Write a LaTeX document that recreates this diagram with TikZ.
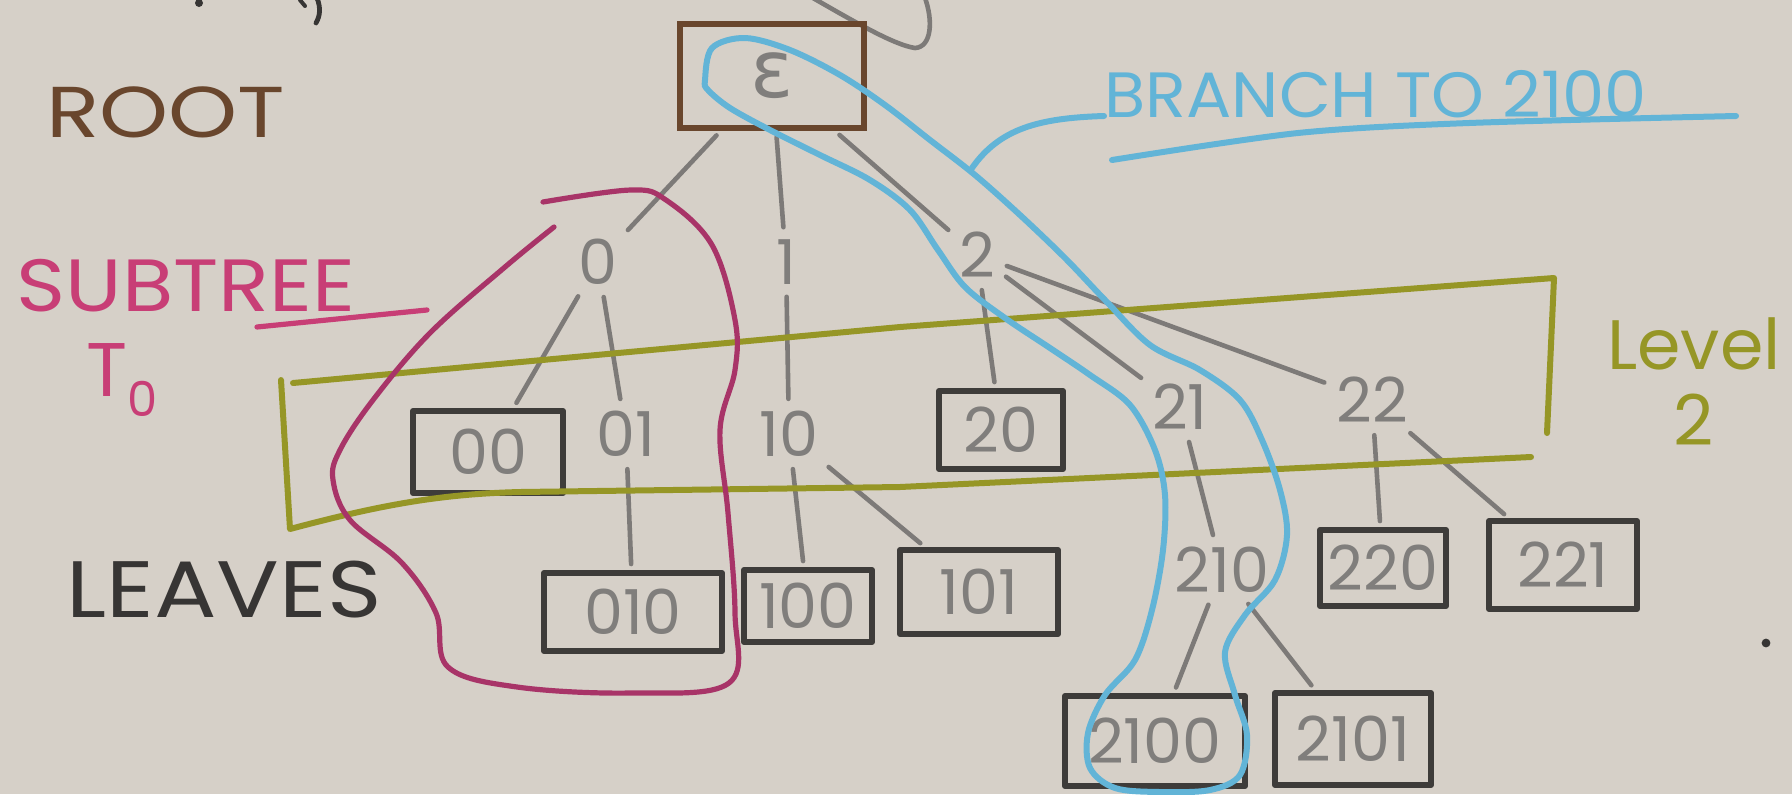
\documentclass[tikz,border=0pt]{standalone}
\usepackage{fontspec}
\setmainfont{Poppins}
\newfontfamily\grkfont{DejaVu Sans}
\definecolor{paper}{RGB}{214,208,200}
\definecolor{nodegray}{RGB}{128,126,124}
\definecolor{edgegray}{RGB}{125,122,120}
\definecolor{boxdark}{RGB}{62,60,58}
\definecolor{rootbrown}{RGB}{105,70,45}
\definecolor{pinkline}{RGB}{168,52,104}
\definecolor{pinktext}{RGB}{200,62,118}
\definecolor{olive}{RGB}{150,150,38}
\definecolor{branchblue}{RGB}{98,180,215}
\definecolor{inkdark}{RGB}{55,53,52}
\newcommand\nodefnt{\fontsize{31}{31}\selectfont}
\begin{document}
\begin{tikzpicture}[x=0.5pt,y=-0.5pt,
  tnode/.style={text=nodegray, font=\nodefnt, inner sep=3pt},
  leafbox/.style={draw=boxdark, line width=3pt, text=nodegray, font=\nodefnt, inner sep=0pt, line join=round},
  rootbox/.style={draw=rootbrown, line width=3pt, text=nodegray, inner sep=0pt, minimum width=92pt, minimum height=52pt},
  edge/.style={draw=edgegray, line width=2.3pt, line cap=round, shorten <=3pt, shorten >=3pt},
  oliveline/.style={draw=olive, line width=3pt, line cap=round, line join=round},
  pinkloop/.style={draw=pinkline, line width=2.6pt, line cap=round},
  blueloop/.style={draw=branchblue, line width=3pt, line cap=round},
  label/.style={inner sep=0pt}
]
\useasboundingbox (0,0) rectangle (1792,794);
\fill[paper] (0,0) rectangle (1792,794);

% cut-off strokes at the top edge
\fill[inkdark] (199,3) circle (2pt);
\draw[inkdark, line width=2pt, line cap=round] (300,0) -- (305,6);
\draw[inkdark, line width=2.4pt, line cap=round] (317,-2) .. controls (321,8) and (320,16) .. (316,23);
\draw[edgegray, line width=2.3pt, line cap=round] (813,-2) .. controls (860,25) and (895,45) .. (915,48) .. controls (932,47) and (933,20) .. (925,-2);

% nodes
\node[rootbox] (eps) at (772,76) {\grkfont\fontsize{40}{40}\selectfont ε};
\node[tnode] (n0) at (598,262) {0};
\node[tnode] (n1) at (786,262) {1};
\node[tnode] (n2) at (977,255) {2};
\node[leafbox, minimum width=75pt, minimum height=41pt] (n00) at (488,452) {00};
\node[tnode] (n01) at (626,434) {01};
\node[tnode] (n10) at (789,434) {10};
\node[leafbox, minimum width=62pt, minimum height=39pt] (n20) at (1001,430) {20};
\node[tnode] (n21) at (1180,407) {21};
\node[tnode] (n22) at (1372,400) {22};
\node[leafbox, minimum width=89pt, minimum height=39pt] (n010) at (633,612) {010};
\node[leafbox, minimum width=64pt, minimum height=36pt] (n100) at (808,606) {100};
\node[leafbox, minimum width=79pt, minimum height=42pt] (n101) at (979,592) {101};
\node[tnode] (n210) at (1222,570) {210};
\node[leafbox, minimum width=63pt, minimum height=38pt] (n220) at (1383,568) {220};
\node[leafbox, minimum width=74pt, minimum height=44pt] (n221) at (1563,565) {221};
\node[leafbox, minimum width=90pt, minimum height=45pt] (n2100) at (1155,741) {2100};
\node[leafbox, minimum width=78pt, minimum height=46pt] (n2101) at (1353,739) {2101};

% tree edges
\draw[edge] (eps) -- (n0);
\draw[edge] (eps) -- (n1);
\draw[edge] (eps) -- (n2);
\draw[edge] (n0) -- (n00);
\draw[edge] (n0) -- (n01);
\draw[edge] (n1) -- (n10);
\draw[edge] (n2) -- (n20);
\draw[edge] (n2) -- (n21);
\draw[edge] (n2) -- (n22);
\draw[edge] (n01) -- (n010);
\draw[edge] (n10) -- (n100);
\draw[edge] (n10) -- (n101);
\draw[edge] (n21) -- (n210);
\draw[edge] (n22) -- (n220);
\draw[edge] (n22) -- (n221);
\draw[edge] (n210) -- (n2100);
\draw[edge] (n210) -- (n2101);

% level 2 frame
\draw[oliveline] (293,383) -- (900,327) -- (1554,278) -- (1547,433);
\draw[oliveline] (281,380) -- (290,529) .. controls (380,505) and (440,494) .. (520,492) -- (900,487) -- (1531,457);
\node[label, text=olive, font=\fontsize{35}{38}\selectfont, align=center] (lvl) at (1694,382) {Level\\2};

% subtree T0 outline
\draw[pinkloop] plot[smooth, tension=0.6] coordinates {(554,227) (505,267) (430,333) (373,400) (340,450) (333,480) (350,520) (402,563) (436,613) (448,667) (517,687) (631,693) (729,683) (735,613) (728,513) (720,430) (735,370) (735,320) (712,245) (666,200) (631,190) (543,202)};
\node[label, text=pinktext, font=\fontsize{37}{37}\selectfont] (subtree) at (186,286) {\scalebox{1.13}[1]{SUBTREE}};
\draw[pinkloop, draw=pinktext] (257,327) -- (427,310);
\node[label, text=pinktext, font=\fontsize{38}{38}\selectfont] (tzero) at (122,380) {T\raisebox{-0.5ex}{\fontsize{24}{24}\selectfont 0}};

% branch to 2100
\draw[blueloop] plot[smooth cycle, tension=0.55] coordinates {(705,80) (712,48) (745,38) (790,50) (840,75) (885,105) (930,140) (975,175) (1020,215) (1065,258) (1105,300) (1150,345) (1200,370) (1240,400) (1262,440) (1280,490) (1287,535) (1275,580) (1245,615) (1225,652) (1235,695) (1247,735) (1240,775) (1210,790) (1160,792) (1115,788) (1090,768) (1088,733) (1105,695) (1135,660) (1152,610) (1163,550) (1165,495) (1155,450) (1130,405) (1090,375) (1050,348) (1005,318) (965,287) (938,250) (910,210) (870,180) (820,155) (770,130) (730,108) (708,90)};
\coordinate (leadA) at (972,168);
\node[label, text=branchblue, font=\fontsize{32}{32}\selectfont, anchor=west] (branch) at (1104,94) {\scalebox{1.05}[1]{BRANCH TO 2100}};
\draw[blueloop] (leadA) .. controls (1000,128) and (1040,118) .. (branch.west |- 0,116);
\draw[blueloop] plot[smooth] coordinates {(1112,160) (1298,133) (1469,123) (1736,116)};

% side labels
\node[label, text=rootbrown, font=\fontsize{36}{36}\selectfont] (root) at (166,112) {\scalebox{1.22}[1]{ROOT}};
\node[label, text=inkdark, font=\fontsize{40}{40}\selectfont] (leaves) at (224,590) {\scalebox{1.16}[1]{LEAVES}};

% stray dot
\fill[inkdark] (1766,643) circle (2.2pt);
\end{tikzpicture}
\end{document}
